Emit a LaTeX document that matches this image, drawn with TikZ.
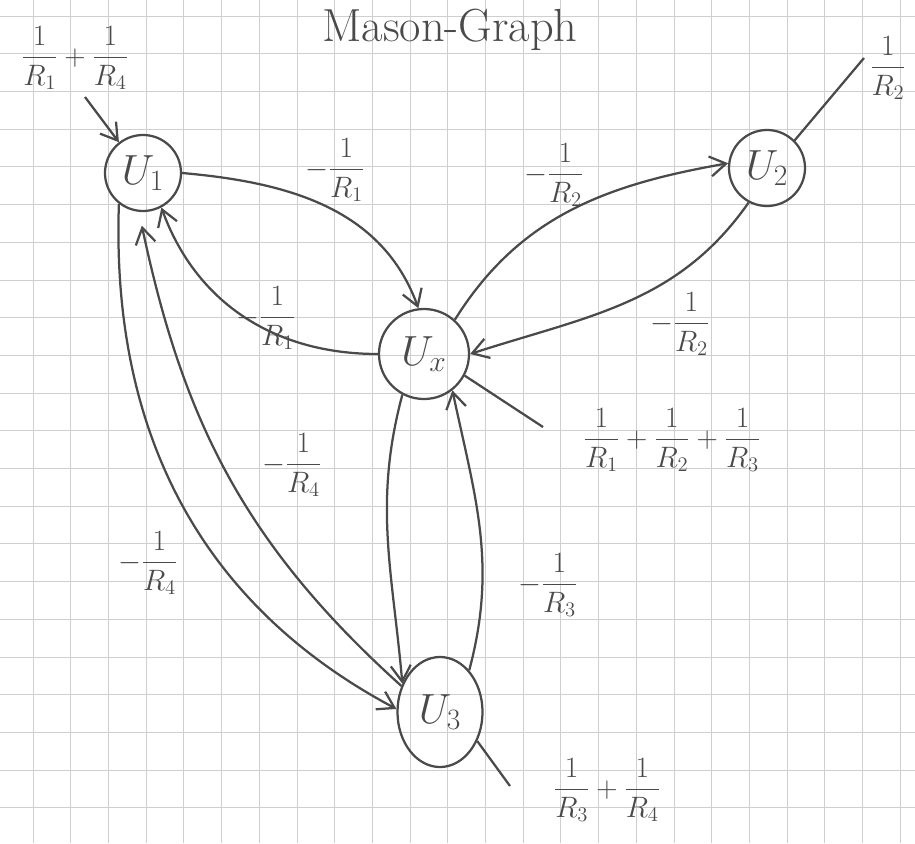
\RequirePackage{fix-cm}
\documentclass[tikz,border=0pt]{standalone}
\usepackage{amsmath}
\usetikzlibrary{arrows.meta,shapes.geometric}

\definecolor{pencil}{HTML}{4A4A4A}
\definecolor{paperline}{HTML}{CFCFCF}

\tikzset{
	stift/.style={draw=pencil, line width=1.6pt},
	knoten/.style={circle, stift, inner sep=0pt, minimum size=1.9cm, text=pencil, font=\fontsize{30}{34}\selectfont},
	zweig/.style={stift, -{Straight Barb[length=4mm,width=5mm,line width=1.6pt]}},
	gewicht/.style={text=pencil, inner sep=1pt, font=\fontsize{21}{25}\selectfont},
}

\begin{document}
\begin{tikzpicture}[x=0.025cm, y=0.025cm]
	\useasboundingbox (0,0) rectangle (915,-843);

	%	Squared paper
	\foreach \gx in {0,...,23} \draw[paperline, line width=0.5pt] (33+37.7*\gx,0) -- (33+37.7*\gx,-843);
	\foreach \gy in {0,...,22} \draw[paperline, line width=0.5pt] (0,-16-37.7*\gy) -- (915,-16-37.7*\gy);

	%	Title
	\node[text=pencil, font=\fontsize{33}{37}\selectfont] (titel) at (450,-30) {Mason-Graph};

	%	Nodes
	\node[knoten] (U1) at (143,-173) {$U_1$};
	\node[knoten] (U2) at (767,-168) {$U_2$};
	\node[knoten, minimum size=2.25cm] (Ux) at (424,-354) {$U_x$};
	\node[knoten, shape=ellipse, minimum width=2.125cm, minimum height=2.75cm] (U3) at (440,-712) {$U_3$};

	%	Branches between U1 and Ux
	\draw[zweig] (U1.east) to[out=-5, in=110] (Ux.97);
	\draw[zweig] (Ux.west) to[out=180, in=-70] (U1.-62);
	\node[gewicht] (g1a) at (335,-170) {$-\dfrac{1}{R_1}$};
	\node[gewicht] (g1b) at (266,-318) {$-\dfrac{1}{R_1}$};

	%	Branches between Ux and U2
	\draw[zweig] (Ux.48) to[out=58, in=190] (U2.173);
	\draw[zweig] (U2.-118) to[out=-125, in=18] (Ux.east);
	\node[gewicht] (g2a) at (554,-175) {$-\dfrac{1}{R_2}$};
	\node[gewicht] (g2b) at (680,-324) {$-\dfrac{1}{R_2}$};

	%	Branches between Ux and U3
	\draw[zweig] (Ux.-118) to[out=-105, in=95] (U3.143);
	\draw[zweig] (U3.55) to[out=75, in=-78] (Ux.-52);
	\node[gewicht] (g3) at (548,-585) {$-\dfrac{1}{R_3}$};

	%	Branches between U1 and U3
	\draw[zweig] (U1.-128) to[out=-92, in=152] (U3.176);
	\draw[zweig, shorten >=10pt] (U3.146) to[out=138, in=-78] (U1.-96);
	\node[gewicht] (g4a) at (292,-465) {$-\dfrac{1}{R_4}$};
	\node[gewicht] (g4b) at (148,-563) {$-\dfrac{1}{R_4}$};

	%	Source terms
	\node[gewicht] (q1) at (75,-58) {$\dfrac{1}{R_1}+\dfrac{1}{R_4}$};
	\coordinate (q1e) at (85,-97);
	\draw[zweig] (q1e) -- (U1.128);

	\node[gewicht] (q2) at (888,-68) {$\dfrac{1}{R_2}$};
	\coordinate (q2e) at (864,-58);
	\draw[stift] (q2e) -- (U2.45);

	\node[gewicht] (qx) at (672,-440) {$\dfrac{1}{R_1}+\dfrac{1}{R_2}+\dfrac{1}{R_3}$};
	\coordinate (qxe) at (543,-427);
	\draw[stift] (qxe) -- (Ux.-28);

	\node[gewicht] (q3) at (607,-790) {$\dfrac{1}{R_3}+\dfrac{1}{R_4}$};
	\coordinate (q3e) at (510,-786);
	\draw[stift] (U3.-38) -- (q3e);
\end{tikzpicture}
\end{document}
